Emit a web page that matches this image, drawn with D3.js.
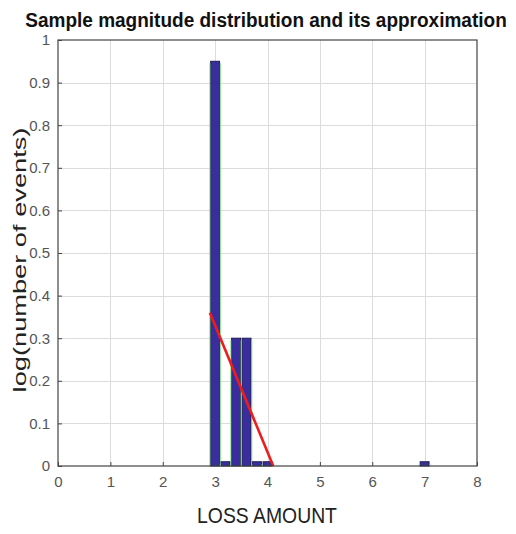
<!DOCTYPE html>
<html>
<head>
<meta charset="utf-8">
<script src="https://cdn.jsdelivr.net/npm/d3@7"></script>
<style>
  body { margin: 0; background: #fff; }
  svg { display: block; }
</style>
</head>
<body>
<svg id="chart" width="516" height="534"></svg>
<script>
// Histogram bins (centre of loss amount) and their log counts
const binCenters = [3.0, 3.2, 3.4, 3.6, 3.8, 4.0, 7.0];
const binValues  = [0.95, 0.01, 0.30, 0.30, 0.01, 0.01, 0.01];
const binWidth = 0.17;

// Fitted linear approximation
const fitX = [2.9, 4.11];
const fitY = [0.36, 0.0];

const xTicks = [0, 1, 2, 3, 4, 5, 6, 7, 8];
const yTicks = [0, 0.1, 0.2, 0.3, 0.4, 0.5, 0.6, 0.7, 0.8, 0.9, 1];

const svg = d3.select("#chart");
const margin = { left: 58, right: 39, top: 40, bottom: 68 };
const W = 516, H = 534;

const x = d3.scaleLinear().domain([0, 8]).range([margin.left, W - margin.right]);
const y = d3.scaleLinear().domain([0, 1]).range([H - margin.bottom, margin.top]);

const sans = "'Liberation Sans', Arial, sans-serif";

// grid
const grid = svg.append("g").attr("stroke", "#dcdcdc").attr("stroke-width", 1);
grid.selectAll("line.vx").data(xTicks.slice(1, -1)).join("line")
  .attr("x1", d => Math.round(x(d)) + 0.5).attr("x2", d => Math.round(x(d)) + 0.5)
  .attr("y1", y(1)).attr("y2", y(0));
grid.selectAll("line.hy").data(yTicks.slice(1, -1)).join("line")
  .attr("y1", d => Math.round(y(d)) + 0.5).attr("y2", d => Math.round(y(d)) + 0.5)
  .attr("x1", x(0)).attr("x2", x(8));

// bars
const bars = svg.append("g");
binCenters.forEach((c, i) => {
  const x0 = x(c - binWidth / 2), x1 = x(c + binWidth / 2);
  const yt = y(binValues[i]), yb = y(0);
  bars.append("rect")
    .attr("x", x0).attr("y", yt)
    .attr("width", x1 - x0).attr("height", yb - yt)
    .attr("fill", "#3a2e9f")
    .attr("stroke", "#1e1e50").attr("stroke-width", 1);
  // green edge lines
  [x0 - 0.8, x1 + 0.8].forEach(xx => {
    bars.append("line")
      .attr("x1", xx).attr("x2", xx)
      .attr("y1", yt + 2).attr("y2", yb)
      .attr("stroke", "#7ddc7d").attr("stroke-width", 0.9);
  });
});

// fitted line
const line = d3.line().x(d => x(d[0])).y(d => y(d[1]));
svg.append("path")
  .datum(fitX.map((v, i) => [v, fitY[i]]))
  .attr("d", line)
  .attr("fill", "none")
  .attr("stroke", "#ee1c1c")
  .attr("stroke-width", 2.6);

// axes box
svg.append("rect")
  .attr("x", x(0)).attr("y", y(1))
  .attr("width", x(8) - x(0)).attr("height", y(0) - y(1))
  .attr("fill", "none").attr("stroke", "#444").attr("stroke-width", 1.2);

// axes with inward ticks
const xAxis = d3.axisBottom(x).tickValues(xTicks).tickFormat(d3.format("d")).tickSizeInner(-4).tickSizeOuter(0).tickPadding(10);
const gx = svg.append("g").attr("transform", `translate(0,${y(0)})`).call(xAxis);
const yAxis = d3.axisLeft(y).tickValues(yTicks).tickFormat(d => d === 0 ? "0" : d === 1 ? "1" : d3.format(".1f")(d)).tickSizeInner(-4).tickSizeOuter(0).tickPadding(8);
const gy = svg.append("g").attr("transform", `translate(${x(0)},0)`).call(yAxis);
[gx, gy].forEach(g => {
  g.select(".domain").remove();
  g.selectAll(".tick line").attr("stroke", "#444");
  g.selectAll(".tick text").attr("fill", "#555").attr("font-size", 15).attr("font-family", sans);
});
gx.selectAll(".tick text").attr("dy", "0.75em");

// Text squeezed horizontally to a target width (condensed look)
function fittedText(cx, cy, rotate, width, size, weight, fill, str) {
  const g = svg.append("g");
  const t = g.append("text")
    .attr("text-anchor", "middle")
    .attr("font-family", sans)
    .attr("font-weight", weight)
    .attr("font-size", size)
    .attr("fill", fill)
    .text(str);
  const k = width / t.node().getComputedTextLength();
  g.attr("transform", `translate(${cx},${cy}) rotate(${rotate}) scale(${k},1)`);
}

fittedText(266, 27, 0, 482, 21, "bold", "#111", "Sample magnitude distribution and its approximation");
fittedText(267, 523, 0, 140, 23, "normal", "#222", "LOSS AMOUNT");
fittedText(26, 260, -90, 265, 19, "normal", "#222", "log(number of events)");
</script>
</body>
</html>
